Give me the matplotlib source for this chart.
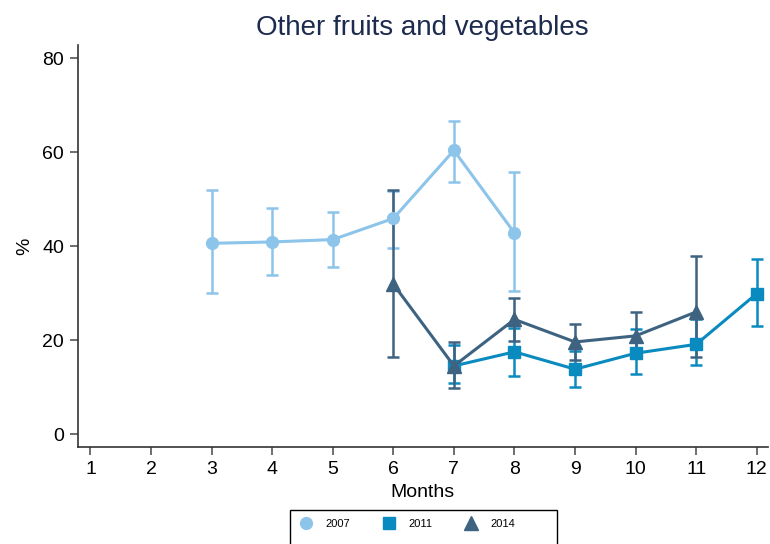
import matplotlib.pyplot as plt
from matplotlib.lines import Line2D
from matplotlib.patches import Rectangle

plt.rcParams["font.family"] = ["Liberation Sans", "DejaVu Sans"]

# 2007 survey
months_2007 = [3, 4, 5, 6, 7, 8]
mean_2007 = [40.6, 40.9, 41.4, 45.9, 60.4, 42.8]
low_2007 = [30.0, 33.8, 35.5, 39.6, 53.7, 30.5]
high_2007 = [51.9, 48.1, 47.2, 51.8, 66.6, 55.8]

# 2011 survey
months_2011 = [7, 8, 9, 10, 11, 12]
mean_2011 = [14.5, 17.5, 13.8, 17.2, 19.1, 29.9]
low_2011 = [10.8, 12.4, 10.1, 12.8, 14.6, 23.1]
high_2011 = [18.9, 22.6, 17.6, 22.4, 24.4, 37.2]

# 2014 survey
months_2014 = [6, 7, 8, 9, 10, 11]
mean_2014 = [31.9, 14.5, 24.4, 19.6, 20.9, 26.0]
low_2014 = [16.4, 9.7, 19.7, 15.8, 16.2, 16.4]
high_2014 = [51.9, 19.5, 29.0, 23.4, 26.0, 37.9]

years = ["2007", "2011", "2014"]
colors = ["#8cc4ea", "#0a8bbf", "#3e6381"]
markers = ["o", "s", "^"]
sizes = [8.5, 8.5, 9.5]

fig = plt.figure(figsize=(7.7, 5.44), dpi=100)
ax = fig.add_axes([0.101, 0.178, 0.896, 0.739])

series = [
    (months_2007, mean_2007, low_2007, high_2007),
    (months_2011, mean_2011, low_2011, high_2011),
    (months_2014, mean_2014, low_2014, high_2014),
]

handles = []
for (x, m, lo, hi), col, mk, ms, lab in zip(series, colors, markers, sizes, years):
    err = [[a - b for a, b in zip(m, lo)], [b - a for a, b in zip(m, hi)]]
    ax.errorbar(x, m, yerr=err, fmt="none", ecolor=col, elinewidth=1.8,
                capsize=4.5, capthick=1.8, zorder=2)
    ax.plot(x, m, color=col, linewidth=2.2, marker=mk, markersize=ms, zorder=3)
    handles.append(Line2D([], [], color=col, marker=mk, linestyle="None",
                          markersize=ms, label=lab))

ax.set_xlim(0.79, 12.18)
ax.set_ylim(-2.8, 82.8)
ax.set_xticks(range(1, 13))
ax.set_yticks([0, 20, 40, 60, 80])
ax.tick_params(labelsize=14, length=6, width=1.2, color="#555555", pad=4)
for s in ["top", "right"]:
    ax.spines[s].set_visible(False)
for s in ["left", "bottom"]:
    ax.spines[s].set_linewidth(1.2)
    ax.spines[s].set_color("#333333")

ax.set_xlabel("Months", fontsize=14, labelpad=4)
ax.set_ylabel("%", fontsize=14, labelpad=6)
fig.text(0.548, 0.948, "Other fruits and vegetables", ha="center", va="center",
         fontsize=20, color="#1c2b4e")

# legend box runs off the bottom edge, as in the reference
fig.patches.append(Rectangle((290 / 770, 1 - 560 / 544), 267 / 770, 50 / 544,
                             transform=fig.transFigure, fill=False,
                             edgecolor="black", linewidth=1.0))
fig.legend(handles=handles, loc="center left", ncol=3,
           bbox_to_anchor=(300 / 770, 1 - 524 / 544), fontsize=8,
           frameon=False, borderpad=0, borderaxespad=0, handlelength=1.0,
           handletextpad=1.25, columnspacing=3.0)

fig.savefig("out.png", dpi=100)
